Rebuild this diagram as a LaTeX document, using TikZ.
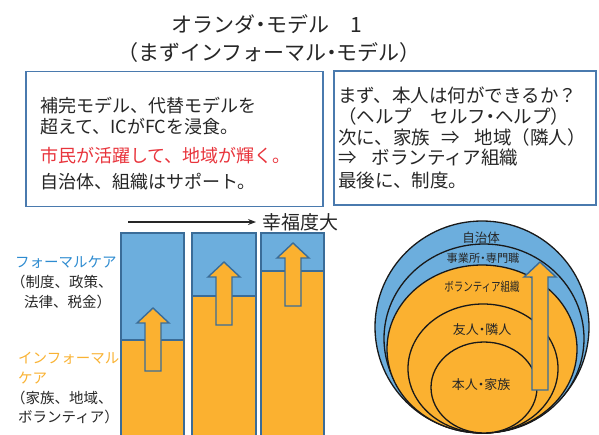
\documentclass[tikz,border=0pt]{standalone}
\usepackage{fontspec}
\setmainfont{Noto Sans CJK JP}
\usetikzlibrary{arrows.meta}
\definecolor{fillblue}{HTML}{6CAEDD}
\definecolor{fillorange}{HTML}{FBB130}
\definecolor{barline}{HTML}{3A6C98}
\definecolor{boxline}{HTML}{4A7AAE}
\definecolor{txtgray}{HTML}{262626}
\definecolor{txtred}{HTML}{E8343C}
\definecolor{lblblue}{HTML}{2D8BD0}
\definecolor{lblorange}{HTML}{F9B233}
\newcommand{\narrowdot}{\makebox[0.5em]{・}}
\tikzset{
  titletxt/.style={inner sep=0pt, text=txtgray, font=\fontsize{21}{21}\selectfont},
  infobox/.style={draw=boxline, line width=1.4pt, inner sep=0pt},
  boxtxt/.style={anchor=west, inner sep=0pt, text=txtgray, font=\fontsize{18}{18}\selectfont},
  boxtxtR/.style={anchor=west, inner sep=0pt, text=txtgray, font=\fontsize{18.5}{18.5}\selectfont},
  sidetxt/.style={anchor=west, inner sep=0pt, text=txtgray, font=\fontsize{14.5}{14.5}\selectfont},
  bluepart/.style={fill=fillblue},
  orangepart/.style={fill=fillorange},
  baredge/.style={draw=barline, line width=1.6pt},
  arrowbox/.style={fill=fillorange, draw=barline, line width=1.4pt, line join=miter},
  ring/.style={draw=black!90, line width=1.3pt},
  ringtxt/.style={inner sep=0pt, text=txtgray},
  uparr/.pic={
    \draw[arrowbox] (-8,0) -- (-8,{-(#1)}) -- (-16,{-(#1)}) -- (0,{-(#1)-15})
      -- (16,{-(#1)}) -- (8,{-(#1)}) -- (8,0) -- cycle;
  }
}
\begin{document}
\begin{tikzpicture}[x=1pt,y=-1pt]
\useasboundingbox (0,0) rectangle (599,434);
\clip (0,0) rectangle (599,434);

% title
\node[titletxt] (t1) at (267,24) {オランダ\narrowdot モデル　1};
\node[titletxt] (t2) at (269,53) {（まずインフォーマル\narrowdot モデル）};

% left info box
\node[infobox, minimum width=297pt, minimum height=135pt] (boxL) at (174.5,139) {};
\node[boxtxt] (l1) at (40,106) {補完モデル、代替モデルを};
\node[boxtxt] (l2) at (40,127) {超えて、ICがFCを浸食。};
\node[boxtxt, text=txtred] (l3) at (40,156) {市民が活躍して、地域が輝く。};
\node[boxtxt] (l4) at (40,182) {自治体、組織はサポート。};

% right info box
\node[infobox, minimum width=262pt, minimum height=134pt] (boxR) at (465,138) {};
\node[boxtxtR] (r1) at (338,95) {まず、本人は何ができるか？};
\node[boxtxtR] (r2) at (338,116) {（ヘルプ　セルフ\narrowdot ヘルプ）};
\node[boxtxtR] (r3) at (338,137) {次に、家族\hspace{0.6em}⇒\hspace{0.8em}地域（隣人）};
\node[boxtxtR] (r4) at (338,158) {⇒\hspace{0.8em}ボランティア組織};
\node[boxtxtR] (r5) at (338,180) {最後に、制度。};

% side labels
\node[sidetxt, text=lblblue] (fc) at (15,262) {フォーマルケア};
\node[sidetxt] (fc2) at (11,282) {（制度、政策、};
\node[sidetxt] (fc3) at (24,302) {法律、税金）};
\node[sidetxt, text=lblorange] (ic) at (18,358) {インフォーマル};
\node[sidetxt, text=lblorange] (ic2) at (18,378) {ケア};
\node[sidetxt] (ic3) at (11,398) {（家族、地域、};
\node[sidetxt] (ic4) at (18,417) {ボランティア）};

% happiness arrow
\coordinate (hs) at (128,222);
\node[anchor=west, inner sep=0pt, text=txtgray, font=\fontsize{19}{19}\selectfont] (happy) at (262,222) {幸福度大};
\draw[-{Stealth[length=8pt,width=6pt]}, line width=1.2pt, black!85] (hs) -- ([xshift=-6pt]happy.west);

% bars
\fill[bluepart] (121,233) rectangle (184,340);
\fill[orangepart] (121,340) rectangle (184,440);
\draw[baredge] (121,340) -- (184,340);
\draw[baredge] (121,440) rectangle (184,233);

\fill[bluepart] (192,233) rectangle (256,296);
\fill[orangepart] (192,296) rectangle (256,440);
\draw[baredge] (192,296) -- (256,296);
\draw[baredge] (192,440) rectangle (256,233);

\fill[bluepart] (261,233) rectangle (324,271);
\fill[orangepart] (261,271) rectangle (324,440);
\draw[baredge] (261,271) -- (324,271);
\draw[baredge] (261,440) rectangle (324,233);

\pic at (153,371) {uparr=48};
\pic at (224,325) {uparr=48};
\pic at (293,306) {uparr=48};

% circles
\draw[ring, fill=fillblue] (482,327) ellipse [x radius=107, y radius=106];
\draw[ring, fill=fillblue] (484,338.5) ellipse [x radius=100, y radius=94.5];
\draw[ring, fill=fillorange] (482,349) ellipse [x radius=95, y radius=84];
\draw[ring, fill=fillorange] (483,368.5) ellipse [x radius=75, y radius=64.5];
\draw[ring, fill=fillorange] (484,387.5) ellipse [x radius=53, y radius=45.5];

\node[ringtxt, font=\fontsize{12.5}{12.5}\selectfont] (c1) at (481,238) {自治体};
\node[ringtxt, font=\fontsize{11.2}{11.2}\selectfont] (c2) at (483,258) {事業所\narrowdot 専門職};
\node[ringtxt, font=\fontsize{12.5}{12.5}\selectfont] (c3) at (482,287) {\scalebox{0.76}[1]{ボランティア組織}};
\node[ringtxt, font=\fontsize{13}{13}\selectfont] (c4) at (482,330) {友人\narrowdot 隣人};
\node[ringtxt, font=\fontsize{13}{13}\selectfont] (c5) at (481,385) {本人\narrowdot 家族};

\pic at (540,390) {uparr=113};
\end{tikzpicture}
\end{document}
